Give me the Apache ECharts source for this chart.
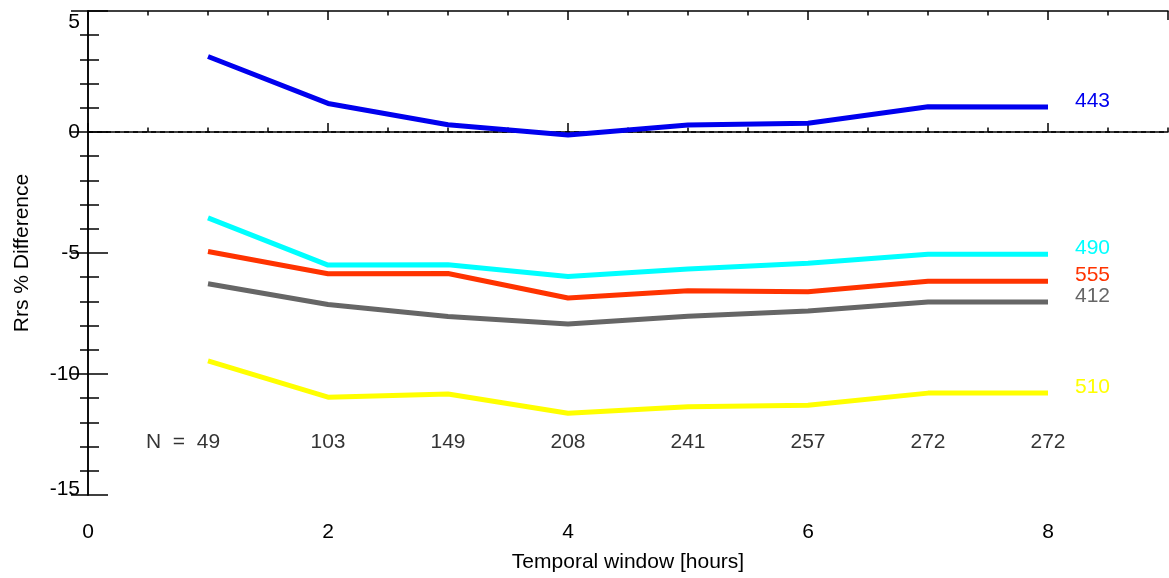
<!DOCTYPE html>
<html>
<head>
<meta charset="utf-8">
<script src="https://cdn.jsdelivr.net/npm/echarts@6/dist/echarts.min.js"></script>
<style>html,body{margin:0;padding:0;background:#fff}#c{width:1169px;height:578px}</style>
</head>
<body>
<div id="c"></div>
<script>
const hours = [1, 2, 3, 4, 5, 6, 7, 8];
const nCounts = [49, 103, 149, 208, 241, 257, 272, 272];
const nLabelY = -12.8;
const bandNames = ['443', '490', '555', '412', '510'];
const bandColors = ['#0000ee', '#00ffff', '#ff3300', '#666666', '#ffff00'];
const v443 = [3.12, 1.18, 0.30, -0.12, 0.29, 0.36, 1.04, 1.03];
const v490 = [-3.55, -5.5, -5.49, -5.97, -5.66, -5.42, -5.05, -5.05];
const v555 = [-4.94, -5.86, -5.85, -6.86, -6.56, -6.6, -6.17, -6.17];
const v412 = [-6.27, -7.13, -7.62, -7.93, -7.61, -7.4, -7.02, -7.02];
const v510 = [-9.46, -10.96, -10.83, -11.62, -11.35, -11.29, -10.79, -10.79];
const bandValues = [v443, v490, v555, v412, v510];

const FONT = 'Liberation Sans';
const FS = 21;
const chart = echarts.init(document.getElementById('c'));

const lineSeries = bandNames.map((name, i) => ({
  name: name,
  type: 'line',
  xAxisIndex: 0,
  yAxisIndex: 0,
  data: hours.map((h, j) => [h, bandValues[i][j]]),
  showSymbol: false,
  symbol: 'none',
  lineStyle: { color: bandColors[i], width: 5 },
  z: 5,
  endLabel: {
    show: true,
    formatter: name,
    color: bandColors[i],
    fontFamily: FONT,
    fontSize: FS,
    distance: 27,
    offset: [0, -6]
  },
  animation: false
}));

lineSeries[0].markLine = {
  silent: true,
  symbol: ['none', 'none'],
  label: { show: false },
  lineStyle: { color: '#000', type: [5, 4], width: 1.5 },
  data: [{ yAxis: 0 }],
  z: 2
};

const nSeries = {
  type: 'scatter',
  xAxisIndex: 0,
  yAxisIndex: 0,
  symbolSize: 0,
  data: hours.map((h, j) => [h, nLabelY, nCounts[j]]),
  label: {
    show: true,
    position: 'inside',
    color: '#000',
    fontFamily: FONT,
    fontSize: FS,
    formatter: p => p.dataIndex === 0 ? 'N  =  ' + p.value[2] : String(p.value[2])
  },
  labelLayout: p => p.dataIndex === 0 ? { dx: -25 } : {},
  animation: false
};

const axisLine = { show: true, lineStyle: { color: '#000', width: 1.5 } };

const xBase = {
  type: 'value', min: 0, max: 9, gridIndex: 0,
  splitLine: { show: false }
};

chart.setOption({
  animation: false,
  backgroundColor: '#fff',
  grid: { left: 88, top: 11, right: 1, bottom: 79, containLabel: false },
  xAxis: [
    Object.assign({}, xBase, {
      position: 'bottom', interval: 2,
      name: 'Temporal window [hours]', nameLocation: 'middle', nameGap: 57,
      nameTextStyle: { fontFamily: FONT, fontSize: FS, color: '#000' },
      axisLine: axisLine,
      axisTick: { inside: true, length: 9, lineStyle: { color: '#000', width: 1.5 } },
      axisLabel: { fontFamily: FONT, fontSize: FS, color: '#000', margin: 27, showMaxLabel: false }
    }),
    Object.assign({}, xBase, {
      position: 'bottom', interval: 0.5,
      axisLine: { show: false },
      axisTick: { inside: true, length: 4.5, lineStyle: { color: '#000', width: 1.5 } },
      axisLabel: { show: false }
    }),
    Object.assign({}, xBase, {
      position: 'top', interval: 2,
      axisLine: axisLine,
      axisTick: { inside: true, length: 9, lineStyle: { color: '#000', width: 1.5 } },
      axisLabel: { show: false }
    }),
    Object.assign({}, xBase, {
      position: 'top', interval: 0.5,
      axisLine: { show: false },
      axisTick: { inside: true, length: 4.5, lineStyle: { color: '#000', width: 1.5 } },
      axisLabel: { show: false }
    })
  ],
  yAxis: [
    {
      type: 'value', min: -15, max: 5, interval: 5, position: 'left',
      name: 'Rrs % Difference', nameLocation: 'middle', nameGap: 55,
      nameTextStyle: { fontFamily: FONT, fontSize: FS, color: '#000' },
      axisLine: axisLine,
      axisTick: { inside: true, length: 20, lineStyle: { color: '#000', width: 1.5 } },
      minorTick: { show: true, splitNumber: 5, length: 11, lineStyle: { color: '#000', width: 1.5 } },
      axisLabel: {
        fontFamily: FONT, fontSize: FS, color: '#000', margin: 8,
        formatter: v => v === 5 ? '{top|' + v + '}' : (v === -15 ? '{bot|' + v + '}' : String(v)),
        rich: {
          top: { fontFamily: FONT, fontSize: FS, color: '#000', padding: [22, 0, 0, 0] },
          bot: { fontFamily: FONT, fontSize: FS, color: '#000', padding: [0, 0, 12, 0] }
        }
      },
      splitLine: { show: false }
    },
    {
      type: 'value', min: -15, max: 5, interval: 5, position: 'right',
      axisLine: axisLine,
      axisTick: { inside: true, length: 17, lineStyle: { color: '#000', width: 1.5 } },
      minorTick: { show: true, splitNumber: 5, length: 8, lineStyle: { color: '#000', width: 1.5 } },
      axisLabel: { show: false },
      splitLine: { show: false }
    }
  ],
  series: lineSeries.concat([nSeries])
});
</script>
</body>
</html>
